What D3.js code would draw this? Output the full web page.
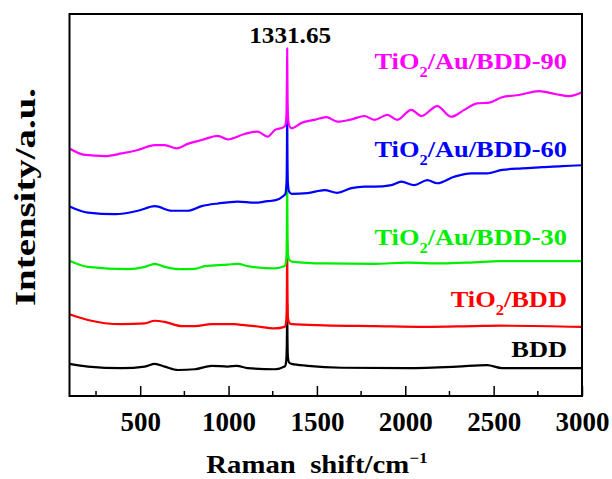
<!DOCTYPE html>
<html>
<head>
<meta charset="utf-8">
<script src="https://cdn.jsdelivr.net/npm/d3@7"></script>
<style>
  body { margin: 0; background: #fff; }
  text { font-family: "Liberation Serif", "Times New Roman", serif; font-weight: bold; }
</style>
</head>
<body>
<svg id="chart" width="612" height="479"></svg>
<script>
// Raman spectra: [shift (cm-1), intensity (a.u., offset)]
var bdd = [[100,8.4],[204,7.7],[396,7.3],[526,7.7],[583,8.4],[639,7.7],[713,6.8],[809,7.0],[905,7.9],[995,7.7],
  [1046,7.9],[1108,7.3],[1261,7.0],[1317,7.7],[1323,8.2],[1328,10.5],[1330.5,17],[1331.65,24],[1333,17],[1335.5,10.5],
  [1342,8.8],[1357,8.4],[1447,7.9],[1639,7.4],[2012,7.3],[2294,7.7],[2463,8.1],[2548,7.3],[3000,7.3]];

var tio2 = [[100,21.4],[204,19.9],[396,18.8],[526,19.0],[583,19.7],[639,19.4],[735,18.3],[809,18.3],[905,18.8],[1035,18.8],
  [1074,18.6],[1148,18.3],[1261,17.7],[1317,18.1],[1323,18.6],[1328,21],[1330.5,30],[1331.65,40],[1333,30],[1335.5,21],
  [1342,19.3],[1357,18.8],[1543,18.5],[1825,18.3],[2108,18.1],[2390,18.3],[2531,18.4],[3000,18.1]];

var au30 = [[100,35.4],[204,33.8],[430,33.2],[526,33.8],[583,34.6],[639,33.8],[724,33.2],[809,33.3],[865,34.0],[995,34.4],
  [1052,34.6],[1108,34.0],[1261,33.4],[1317,34.0],[1323,34.6],[1328,37],[1330.5,47],[1331.65,58],[1333,47],[1335.5,37.5],
  [1342,35.8],[1357,35.2],[1543,34.7],[1825,34.6],[2012,34.9],[2204,34.7],[2390,35.0],[2531,35.3],[3000,35.3]];

var au60 = [[100,49.6],[204,48.0],[357,47.6],[487,48.5],[583,49.7],[679,48.5],[769,48.5],[848,49.7],[939,50.4],[1052,50.9],
  [1148,50.6],[1221,51.0],[1261,51.2],[1312,52.4],[1322,53],[1328,56],[1330.5,65],[1331.65,76],[1333,65],[1335.5,56],
  [1342,53.6],[1357,52.9],[1447,53.1],[1543,53.9],[1616,53.2],[1695,54.4],[1769,54.8],[1825,54.8],[1921,55.2],[1978,56.1],
  [2051,55.2],[2125,56.5],[2181,55.7],[2277,57.4],[2373,58.3],[2463,58.3],[2548,59.2],[2661,59.6],[2774,59.9],[2887,60.2],[3000,60.4]];

var au90 = [[100,64.8],[188,63.1],[301,62.8],[396,63.5],[487,64.4],[583,65.7],[639,65.7],[707,64.8],[769,66.0],[848,67.0],
  [939,68.1],[995,67.2],[1091,68.6],[1164,69.2],[1221,67.9],[1261,69.6],[1312,70.4],[1322,71],[1328,74],[1330.5,83],
  [1331.65,91],[1333,83],[1335.5,74],[1342,71],[1357,70.1],[1413,71.5],[1486,72.3],[1554,73.0],[1616,71.8],[1695,72.4],
  [1769,73.3],[1825,72.3],[1899,73.6],[1955,72.3],[2034,74.9],[2091,73.3],[2181,75.9],[2260,73.1],[2334,74.9],[2407,76.6],
  [2475,76.8],[2548,78.2],[2644,78.8],[2757,79.8],[2853,79.0],[2927,78.5],[3000,79.5]];

var seriesNames = ["BDD", "TiO2/BDD", "TiO2/Au/BDD-30", "TiO2/Au/BDD-60", "TiO2/Au/BDD-90"];
var seriesData = [bdd, tio2, au30, au60, au90];
var seriesColors = ["#000000", "#ff0000", "#00ee00", "#0000ff", "#ff00ff"];
var xTicks = [500, 1000, 1500, 2000, 2500, 3000];
var xMinor = [250, 750, 1250, 1750, 2250, 2750];
var peakLabel = 1331.65;

var svg = d3.select("#chart");
var mLeft = 69.5, mRight = 582, mTop = 14, mBottom = 396;

var xScale = d3.scaleLinear().domain([100, 3000]).range([mLeft, mRight]);
var yScale = d3.scaleLinear().domain([0, 100]).range([mBottom, mTop]);

var line = d3.line()
  .curve(d3.curveMonotoneX)
  .x(function(d) { return xScale(d[0]); })
  .y(function(d) { return yScale(d[1]); });

// spectra, bottom to top so the upper ones sit over the lower peaks
svg.selectAll(".spec")
  .data(seriesData)
  .enter().append("path")
  .attr("class", "spec")
  .attr("d", line)
  .attr("fill", "none")
  .attr("stroke", function(d, i) { return seriesColors[i]; })
  .attr("stroke-width", 2.2)
  .attr("stroke-linejoin", "round");

// frame
svg.append("rect")
  .attr("x", mLeft).attr("y", mTop)
  .attr("width", mRight - mLeft).attr("height", mBottom - mTop)
  .attr("fill", "none").attr("stroke", "#000").attr("stroke-width", 2);

// x axis, ticks pointing inward
var xAxisG = svg.append("g")
  .attr("transform", "translate(0," + mBottom + ")")
  .call(d3.axisBottom(xScale).tickValues(xTicks).tickFormat(d3.format("d"))
    .tickSizeInner(-10).tickSizeOuter(0).tickPadding(16));
xAxisG.select(".domain").remove();
xAxisG.selectAll("line").attr("stroke-width", 1.5);
xAxisG.selectAll("text")
  .style("font-size", "27px")
  .attr("dy", "0.71em")
  .attr("fill", "#000");

svg.append("g")
  .selectAll("line")
  .data(xMinor)
  .enter().append("line")
  .attr("x1", function(d) { return xScale(d); })
  .attr("x2", function(d) { return xScale(d); })
  .attr("y1", mBottom).attr("y2", mBottom - 5)
  .attr("stroke", "#000").attr("stroke-width", 1.5);

// text stretched a little sideways, like the original lettering
function wideText(x, y, sx, anchor) {
  return svg.append("g")
    .attr("transform", "translate(" + x + "," + y + ") scale(" + sx + ",1)")
    .append("text")
    .attr("text-anchor", anchor);
}

// axis titles
var xt = wideText(317, 473, 1.15, "middle").style("font-size", "25px");
xt.append("tspan").text("Raman\u00a0\u00a0shift/cm");
xt.append("tspan").attr("dy", -10).style("font-size", "15px").text("\u22121");

svg.append("text")
  .attr("transform", "translate(35,197) rotate(-90)")
  .attr("text-anchor", "middle")
  .attr("textLength", 218)
  .attr("lengthAdjust", "spacingAndGlyphs")
  .style("font-size", "30px")
  .text("Intensity/a.u.");

// peak position label
wideText(xScale(peakLabel) + 3, 43, 1.05, "middle")
  .style("font-size", "24px")
  .text(peakLabel.toFixed(2));

// series labels
var labelBase = [357, 307, 245, 157, 69];
seriesNames.forEach(function(name, i) {
  var t = wideText(567, labelBase[i], 1.1, "end")
    .attr("fill", seriesColors[i])
    .style("font-size", "24px");
  if (name.indexOf("TiO2") === 0) {
    t.append("tspan").text("TiO");
    t.append("tspan").attr("dy", 8).style("font-size", "15px").text("2");
    t.append("tspan").attr("dy", -8).text(name.slice(4));
  } else {
    t.text(name);
  }
});
</script>
</body>
</html>
